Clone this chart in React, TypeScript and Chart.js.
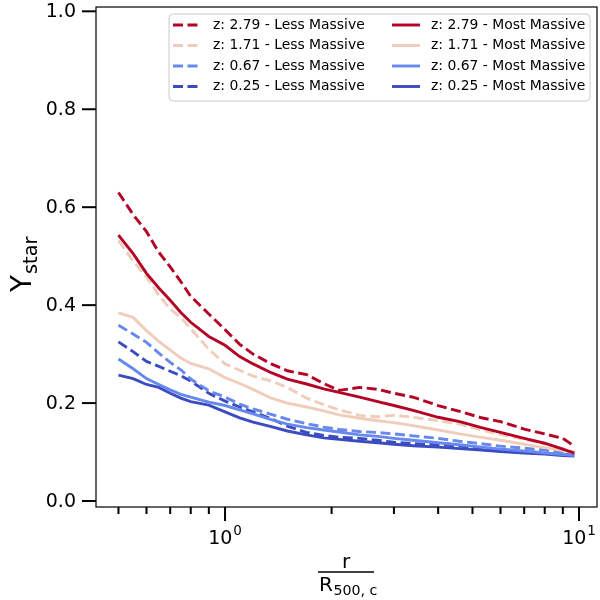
import React, { useEffect, useRef } from "react";
import { Chart, registerables } from "chart.js";

Chart.register(...registerables);

// radius in units of R500c
const radius = [0.5, 0.55, 0.6, 0.65, 0.7, 0.75, 0.8, 0.9, 1.0, 1.1, 1.2, 1.35, 1.5, 1.7, 1.9, 2.1, 2.4, 2.7, 3.0, 3.4, 4.0, 4.6, 5.3, 6.0, 7.0, 8.0, 9.0, 9.7];

const z279Less = [0.63, 0.585, 0.55, 0.508, 0.478, 0.448, 0.418, 0.382, 0.35, 0.32, 0.3, 0.28, 0.266, 0.258, 0.24, 0.226, 0.232, 0.228, 0.22, 0.212, 0.195, 0.183, 0.17, 0.162, 0.147, 0.137, 0.128, 0.112];
const z171Less = [0.532, 0.49, 0.458, 0.42, 0.392, 0.375, 0.352, 0.31, 0.28, 0.267, 0.255, 0.245, 0.232, 0.21, 0.197, 0.186, 0.175, 0.172, 0.175, 0.171, 0.164, 0.157, 0.145, 0.136, 0.126, 0.117, 0.107, 0.1];
const z067Less = [0.359, 0.341, 0.324, 0.302, 0.283, 0.268, 0.249, 0.225, 0.212, 0.198, 0.188, 0.177, 0.167, 0.158, 0.151, 0.146, 0.142, 0.14, 0.137, 0.133, 0.128, 0.122, 0.117, 0.112, 0.108, 0.104, 0.1, 0.098];
const z025Less = [0.325, 0.305, 0.285, 0.275, 0.265, 0.256, 0.245, 0.22, 0.204, 0.192, 0.182, 0.168, 0.153, 0.14, 0.134, 0.13, 0.128, 0.124, 0.12, 0.117, 0.115, 0.112, 0.108, 0.105, 0.101, 0.098, 0.095, 0.094];

const z279Most = [0.543, 0.505, 0.465, 0.435, 0.41, 0.385, 0.365, 0.336, 0.318, 0.295, 0.28, 0.262, 0.249, 0.239, 0.229, 0.222, 0.212, 0.203, 0.195, 0.185, 0.171, 0.162, 0.15, 0.14, 0.128, 0.118, 0.106, 0.098];
const z171Most = [0.384, 0.375, 0.348, 0.326, 0.308, 0.292, 0.281, 0.27, 0.252, 0.24, 0.228, 0.21, 0.2, 0.192, 0.184, 0.176, 0.169, 0.164, 0.16, 0.154, 0.145, 0.137, 0.13, 0.124, 0.116, 0.109, 0.103, 0.099];
const z067Most = [0.29, 0.27, 0.25, 0.238, 0.227, 0.218, 0.212, 0.202, 0.195, 0.186, 0.178, 0.166, 0.157, 0.15, 0.145, 0.141, 0.135, 0.132, 0.128, 0.124, 0.119, 0.115, 0.11, 0.106, 0.102, 0.098, 0.095, 0.093];
const z025Most = [0.257, 0.25, 0.238, 0.232, 0.22, 0.21, 0.203, 0.196, 0.182, 0.17, 0.161, 0.152, 0.143, 0.135, 0.129, 0.126, 0.122, 0.119, 0.116, 0.113, 0.11, 0.107, 0.104, 0.101, 0.098, 0.096, 0.093, 0.092];

const redshifts = ["2.79", "1.71", "0.67", "0.25"];
const colors = ["#b40426", "#f0cdbb", "#6788ee", "#3b4cc0"];
const lessSeries = [z279Less, z171Less, z067Less, z025Less];
const mostSeries = [z279Most, z171Most, z067Most, z025Most];

const yTicks = [0, 0.2, 0.4, 0.6, 0.8, 1.0];
const xMajor = [1, 10];
const xMinor = [0.5, 0.6, 0.7, 0.8, 0.9, 2, 3, 4, 5, 6, 7, 8, 9];

const FONT = "'DejaVu Sans', sans-serif";
const DASH = [10, 4.5];
const LINE_W = 2.9;

const toPoints = (ys: number[]) => radius.map((x, i) => ({ x, y: ys[i] }));

const axesPlugin = {
  id: "mplAxes",
  afterDatasetsDraw(chart: any) {
    const ctx: CanvasRenderingContext2D = chart.ctx;
    const { left, right, top, bottom } = chart.chartArea;
    const xs = chart.scales.x;
    const ys = chart.scales.y;
    ctx.save();

    // legend
    const lx = 169, ly = 14, lw = 421, lh = 87, r = 4;
    ctx.beginPath();
    ctx.moveTo(lx + r, ly);
    ctx.arcTo(lx + lw, ly, lx + lw, ly + lh, r);
    ctx.arcTo(lx + lw, ly + lh, lx, ly + lh, r);
    ctx.arcTo(lx, ly + lh, lx, ly, r);
    ctx.arcTo(lx, ly, lx + lw, ly, r);
    ctx.closePath();
    ctx.fillStyle = "rgba(255,255,255,0.8)";
    ctx.fill();
    ctx.strokeStyle = "#cccccc";
    ctx.lineWidth = 1;
    ctx.stroke();

    ctx.font = `13.9px ${FONT}`;
    ctx.textBaseline = "middle";
    ctx.textAlign = "left";
    redshifts.forEach((z, i) => {
      const yy = 25 + i * 20.5;
      ctx.strokeStyle = colors[i];
      ctx.lineWidth = LINE_W;
      ctx.setLineDash(DASH);
      ctx.beginPath();
      ctx.moveTo(173, yy);
      ctx.lineTo(201, yy);
      ctx.stroke();
      ctx.setLineDash([]);
      ctx.beginPath();
      ctx.moveTo(392, yy);
      ctx.lineTo(420, yy);
      ctx.stroke();
      ctx.fillStyle = "#000";
      ctx.fillText(`z: ${z} - Less Massive`, 213, yy);
      ctx.fillText(`z: ${z} - Most Massive`, 431, yy);
    });

    // frame
    ctx.strokeStyle = "#000";
    ctx.lineWidth = 1.2;
    ctx.strokeRect(left, top, right - left, bottom - top);

    // y ticks
    ctx.lineWidth = 2;
    ctx.font = `19px ${FONT}`;
    ctx.textAlign = "right";
    ctx.textBaseline = "middle";
    yTicks.forEach((v) => {
      const py = ys.getPixelForValue(v);
      ctx.beginPath();
      ctx.moveTo(left - 14, py);
      ctx.lineTo(left, py);
      ctx.stroke();
      ctx.fillText(v.toFixed(1), left - 20, py + 1);
    });

    // x ticks
    xMinor.forEach((v) => {
      const px = xs.getPixelForValue(v);
      ctx.beginPath();
      ctx.moveTo(px, bottom);
      ctx.lineTo(px, bottom + 7);
      ctx.stroke();
    });
    ctx.textAlign = "left";
    ctx.textBaseline = "alphabetic";
    xMajor.forEach((v) => {
      const px = xs.getPixelForValue(v);
      ctx.beginPath();
      ctx.moveTo(px, bottom);
      ctx.lineTo(px, bottom + 14);
      ctx.stroke();
      ctx.font = `19px ${FONT}`;
      const w1 = ctx.measureText("10").width;
      ctx.font = `13.5px ${FONT}`;
      const sup = String(Math.round(Math.log10(v)));
      const w2 = ctx.measureText(sup).width;
      const x0 = px - (w1 + w2 + 1) / 2;
      ctx.font = `19px ${FONT}`;
      ctx.fillText("10", x0, 544);
      ctx.font = `13.5px ${FONT}`;
      ctx.fillText(sup, x0 + w1 + 1, 535);
    });

    // y label
    ctx.save();
    ctx.translate(31, 292);
    ctx.rotate(-Math.PI / 2);
    ctx.font = `27.8px ${FONT}`;
    ctx.fillText("Y", 0, 0);
    const wy = ctx.measureText("Y").width;
    ctx.font = `19.4px ${FONT}`;
    ctx.fillText("star", wy + 1, 6);
    ctx.restore();

    // x label fraction
    ctx.font = `20px ${FONT}`;
    ctx.textAlign = "center";
    ctx.fillText("r", 346, 568);
    ctx.lineWidth = 1.3;
    ctx.beginPath();
    ctx.moveTo(318, 572);
    ctx.lineTo(374, 572);
    ctx.stroke();
    ctx.textAlign = "left";
    ctx.fillText("R", 319, 591);
    const wr = ctx.measureText("R").width;
    ctx.font = `14.2px ${FONT}`;
    ctx.fillText("500, c", 319 + wr + 0.5, 595);

    ctx.restore();
  },
};

const App: React.FC = () => {
  const canvasRef = useRef<HTMLCanvasElement>(null);
  const chartInstance = useRef<Chart>();

  useEffect(() => {
    if (!canvasRef.current) return;
    const ctx = canvasRef.current.getContext("2d");
    if (!ctx) return;
    if (chartInstance.current) chartInstance.current.destroy();

    const datasets: any[] = [];
    redshifts.forEach((z, i) => {
      datasets.push({
        label: `z: ${z} - Less Massive`,
        data: toPoints(lessSeries[i]),
        borderColor: colors[i],
        borderDash: DASH,
        borderWidth: LINE_W,
        pointRadius: 0,
        fill: false,
      });
      datasets.push({
        label: `z: ${z} - Most Massive`,
        data: toPoints(mostSeries[i]),
        borderColor: colors[i],
        borderWidth: LINE_W,
        pointRadius: 0,
        fill: false,
      });
    });

    chartInstance.current = new Chart(ctx, {
      type: "line",
      data: { datasets },
      options: {
        animation: false,
        responsive: false,
        devicePixelRatio: 1,
        layout: { padding: { left: 96, right: 3, top: 7, bottom: 93 } },
        plugins: { legend: { display: false }, tooltip: { enabled: false } },
        scales: {
          x: { type: "logarithmic", min: 0.432, max: 11.24, display: false },
          y: { type: "linear", min: -0.0122, max: 1.0088, display: false },
        },
      },
      plugins: [axesPlugin],
    });

    return () => {
      if (chartInstance.current) {
        chartInstance.current.destroy();
        chartInstance.current = undefined;
      }
    };
  }, []);

  return (
    <div style={{ position: "fixed", left: 0, top: 0, width: 600, height: 600, background: "#fff" }}>
      <canvas ref={canvasRef} width={600} height={600} style={{ width: 600, height: 600 }} />
    </div>
  );
};

export default App;
